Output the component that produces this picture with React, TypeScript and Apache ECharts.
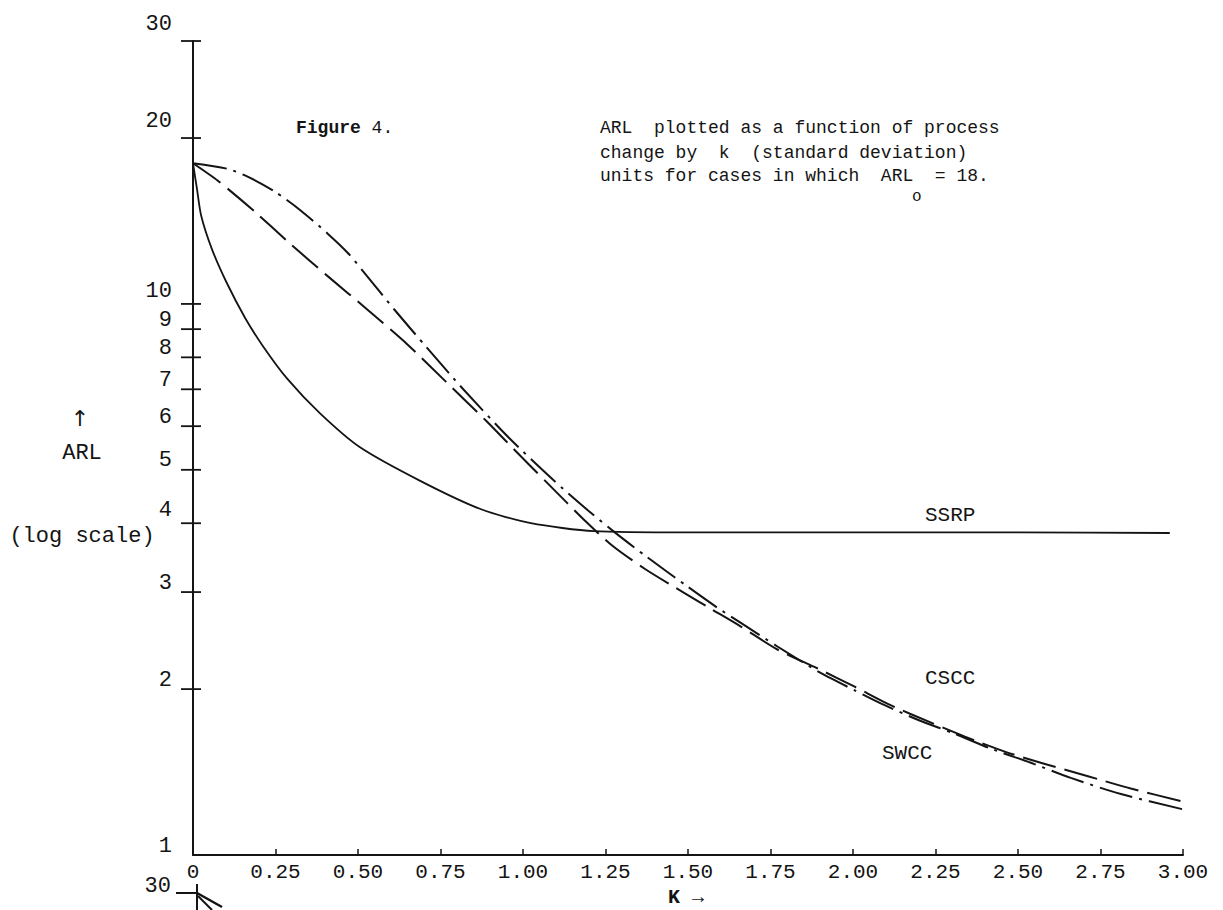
import React, { useEffect, useRef } from 'react';
import * as echarts from 'echarts';

// ---- data ----
const yLabelValues = [1, 2, 3, 4, 5, 6, 7, 8, 9, 10, 20, 30];
const yTickValues = [2, 3, 4, 5, 6, 7, 8, 9, 10, 20, 30];

const ssrpK = [0, 0.012, 0.025, 0.057, 0.101, 0.158, 0.211, 0.286, 0.385, 0.505, 0.69, 0.873, 1.024, 1.215, 1.5, 2.0, 2.5, 2.96];
const ssrpARL = [18, 16.17, 14.44, 12.59, 10.96, 9.43, 8.4, 7.31, 6.33, 5.5, 4.77, 4.24, 4.0, 3.87, 3.85, 3.85, 3.85, 3.84];

const csccK = [0, 0.076, 0.188, 0.288, 0.409, 0.528, 0.649, 0.767, 0.889, 0.971, 1.074, 1.192, 1.271, 1.371, 1.492, 1.568, 1.659, 1.771, 1.893, 2.005, 2.114, 2.235, 2.339, 2.46, 2.569, 2.712, 2.842, 3.0];
const csccARL = [18, 16.72, 14.69, 12.96, 11.22, 9.77, 8.45, 7.22, 6.13, 5.46, 4.73, 4.02, 3.64, 3.3, 2.98, 2.8, 2.6, 2.36, 2.18, 2.02, 1.87, 1.74, 1.64, 1.54, 1.47, 1.39, 1.32, 1.25];

const swccK = [0, 0.106, 0.167, 0.249, 0.328, 0.409, 0.47, 0.528, 0.61, 0.708, 0.819, 0.958, 1.092, 1.201, 1.283, 1.371, 1.492, 1.589, 1.659, 1.771, 1.902, 2.005, 2.096, 2.196, 2.308, 2.417, 2.539, 2.66, 2.812, 3.0];
const swccARL = [18, 17.58, 17.0, 15.97, 14.75, 13.4, 12.36, 11.22, 9.77, 8.34, 7.0, 5.71, 4.79, 4.2, 3.83, 3.49, 3.09, 2.81, 2.64, 2.39, 2.14, 1.99, 1.87, 1.76, 1.66, 1.56, 1.47, 1.38, 1.29, 1.21];

const captionLines = [
  'ARL  plotted as a function of process',
  'change by  k  (standard deviation)',
  'units for cases in which  ARL  = 18.',
];

const INK = '#141414';
const MONO = '"Liberation Mono", "DejaVu Sans Mono", monospace';
const GRID = { left: 193, top: 41, width: 990, height: 814 };
const Y_MIN = 1;
const Y_MAX = 30;

const pairs = (ks: number[], vs: number[]) => ks.map((k, i) => [k, vs[i]]);

export default function App() {
  const ref = useRef<HTMLDivElement>(null);

  useEffect(() => {
    if (!ref.current) return;
    const chart = echarts.init(ref.current, null, { renderer: 'svg' });

    const txt = (x: number, y: number, text: string, size: number, extra: any = {}) => ({
      type: 'text',
      x,
      y,
      style: {
        text,
        fontFamily: MONO,
        fontSize: size,
        fill: INK,
        align: 'left',
        verticalAlign: 'middle',
        ...extra,
      },
    });

    // y ticks that cross the axis line (same log mapping as the y axis)
    const logSpan = Math.log10(Y_MAX) - Math.log10(Y_MIN);
    const crossTicks = yTickValues.map((v) => {
      const py = GRID.top + GRID.height * (1 - (Math.log10(v) - Math.log10(Y_MIN)) / logSpan);
      return {
        type: 'line',
        z: 100,
        shape: { x1: GRID.left - 12, y1: py, x2: GRID.left + 8, y2: py },
        style: { stroke: INK, lineWidth: 1.8 },
      };
    });

    const graphics: any[] = [
      // caption
      {
        type: 'text',
        x: 296,
        y: 128,
        style: {
          text: '{b|Figure} 4.',
          fontFamily: MONO,
          fontSize: 18,
          fill: INK,
          align: 'left',
          verticalAlign: 'middle',
          rich: { b: { fontFamily: MONO, fontSize: 18, fontWeight: 'bold', fill: INK } },
        },
      },
      txt(600, 128, captionLines[0], 18),
      txt(600, 153, captionLines[1], 18),
      txt(600, 176, captionLines[2], 18),
      txt(912, 197, 'o', 16),
      // y axis name
      txt(80, 418, '↑', 22, { align: 'center', fontFamily: '"DejaVu Sans", sans-serif' }),
      txt(82, 453, 'ARL', 22, { align: 'center' }),
      txt(82, 536, '(log scale)', 22, { align: 'center' }),
      // x axis name
      txt(686, 897, 'K →', 20, { align: 'center', fontWeight: 'bold' }),
      // series labels
      txt(925, 515, 'SSRP', 21),
      txt(925, 678, 'CSCC', 21),
      txt(882, 753, 'SWCC', 21),
      // fragment of the next figure at the bottom edge
      txt(171, 886, '30', 22, { align: 'right' }),
      { type: 'line', shape: { x1: 176, y1: 893, x2: 198, y2: 893 }, style: { stroke: INK, lineWidth: 2 } },
      { type: 'line', shape: { x1: 197, y1: 884, x2: 197, y2: 910 }, style: { stroke: INK, lineWidth: 2 } },
      { type: 'line', shape: { x1: 197, y1: 893, x2: 222, y2: 907 }, style: { stroke: INK, lineWidth: 2.5 } },
      { type: 'line', shape: { x1: 198, y1: 896, x2: 212, y2: 910 }, style: { stroke: INK, lineWidth: 2 } },
      ...crossTicks,
    ];

    const option: any = {
      animation: false,
      backgroundColor: '#ffffff',
      grid: { ...GRID, containLabel: false },
      xAxis: {
        type: 'value',
        min: 0,
        max: 3,
        interval: 0.25,
        axisLine: { show: true, lineStyle: { color: INK, width: 2 } },
        axisTick: { show: true, inside: true, length: 6, lineStyle: { color: INK, width: 1.5 } },
        splitLine: { show: false },
        axisLabel: {
          margin: 7,
          fontFamily: MONO,
          fontSize: 21,
          color: INK,
          formatter: (v: number) => (v === 0 ? '0' : v.toFixed(2)),
        },
      },
      yAxis: {
        type: 'log',
        logBase: 10,
        min: Y_MIN,
        max: Y_MAX,
        position: 'left',
        axisLine: { show: true, lineStyle: { color: INK, width: 2 } },
        axisTick: { show: false },
        splitLine: { show: false },
        minorTick: { show: false },
        axisLabel: {
          customValues: yLabelValues,
          margin: 21,
          verticalAlign: 'bottom',
          fontFamily: MONO,
          fontSize: 22,
          color: INK,
          formatter: (v: number) => {
            const n = Math.round(v);
            if (n >= 20) return `{hi|${n}}`;
            if (n === 10 || n === 4) return `{md|${n}}`;
            return `{lo|${n}}`;
          },
          rich: {
            hi: { fontFamily: MONO, fontSize: 22, color: INK, lineHeight: 20, padding: [0, 0, 14, 0] },
            md: { fontFamily: MONO, fontSize: 22, color: INK, lineHeight: 20, padding: [0, 0, 5, 0] },
            lo: { fontFamily: MONO, fontSize: 22, color: INK, lineHeight: 18 },
          },
        },
      },
      series: [
        {
          name: 'SSRP',
          type: 'line',
          data: pairs(ssrpK, ssrpARL),
          showSymbol: false,
          smooth: 0.25,
          lineStyle: { color: INK, width: 1.8, type: 'solid' },
        },
        {
          name: 'CSCC',
          type: 'line',
          data: pairs(csccK, csccARL),
          showSymbol: false,
          smooth: 0.25,
          lineStyle: { color: INK, width: 2, type: [34, 9] },
        },
        {
          name: 'SWCC',
          type: 'line',
          data: pairs(swccK, swccARL),
          showSymbol: false,
          smooth: 0.25,
          lineStyle: { color: INK, width: 2, type: [34, 7, 3, 7] },
        },
      ],
      graphic: graphics,
    };

    chart.setOption(option);
    return () => chart.dispose();
  }, []);

  return (
    <div
      ref={ref}
      style={{ position: 'absolute', left: 0, top: 0, width: 1223, height: 910, background: '#fff' }}
    />
  );
}
